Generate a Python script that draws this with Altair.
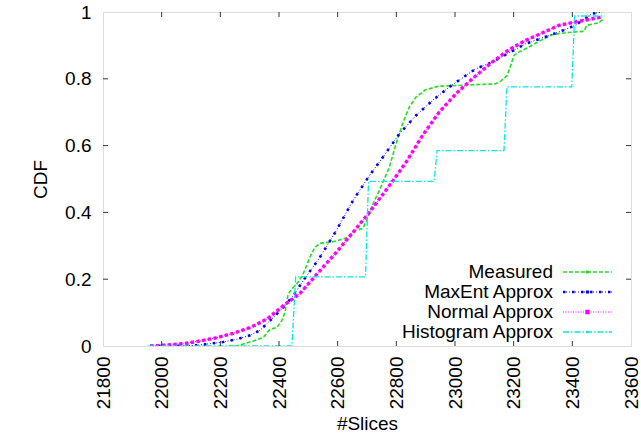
import altair as alt
import pandas as pd

FONT = "Liberation Sans"

# ---- data ----
measured_x = [22230, 22256, 22312, 22346, 22369, 22392, 22409, 22420, 22431, 22443, 22460, 22482,
              22505, 22522, 22539, 22584, 22629, 22657, 22686, 22703, 22720, 22742, 22776,
              22799, 22821, 22844, 22867, 22899, 22946, 23014, 23082, 23139, 23156, 23178,
              23190, 23201, 23218, 23241, 23286, 23331, 23376, 23439, 23450, 23490, 23507]
measured_y = [0.0, 0.0, 0.015, 0.025, 0.05, 0.055, 0.075, 0.10, 0.155, 0.17, 0.185, 0.215,
              0.265, 0.295, 0.307, 0.312, 0.323, 0.345, 0.352, 0.385, 0.425, 0.465, 0.535,
              0.605, 0.665, 0.715, 0.745, 0.767, 0.778, 0.78, 0.783, 0.785, 0.793, 0.81,
              0.84, 0.87, 0.88, 0.89, 0.912, 0.932, 0.938, 0.942, 0.96, 0.968, 0.98]

maxent_x = [21960, 22050, 22120, 22165, 22210, 22256, 22301, 22335, 22380, 22414, 22448,
            22482, 22539, 22595, 22652, 22708, 22754, 22810, 22867, 22923, 22980, 23037,
            23071, 23127, 23241, 23354, 23410, 23467, 23501]
maxent_y = [0.0, 0.0, 0.002, 0.007, 0.012, 0.02, 0.032, 0.047, 0.085, 0.115, 0.15,
            0.195, 0.265, 0.345, 0.435, 0.51, 0.565, 0.635, 0.69, 0.735, 0.775, 0.81,
            0.83, 0.85, 0.905, 0.94, 0.96, 0.995, 1.0]

normal_x = [21961, 22018, 22074, 22131, 22188, 22244, 22301, 22358, 22414, 22471, 22539,
            22595, 22652, 22708, 22776, 22833, 22889, 22946, 23003, 23059, 23127, 23184,
            23241, 23297, 23354, 23410, 23490, 23501]
normal_y = [0.0, 0.003, 0.007, 0.015, 0.025, 0.038, 0.055, 0.08, 0.12, 0.157, 0.225,
            0.28, 0.34, 0.40, 0.48, 0.55, 0.63, 0.70, 0.755, 0.80, 0.85, 0.887,
            0.915, 0.937, 0.96, 0.97, 0.983, 0.985]

hist_x = [21955, 22444, 22457, 22695, 22705, 22929, 22939, 23167, 23177, 23398, 23408, 23510]
hist_y = [0.0, 0.0, 0.207, 0.207, 0.493, 0.493, 0.585, 0.585, 0.776, 0.776, 0.988, 0.988]

series_names = ["Measured", "MaxEnt Approx", "Normal Approx", "Histogram Approx"]
x_ticks = [21800, 22000, 22200, 22400, 22600, 22800, 23000, 23200, 23400, 23600]
y_ticks = [0, 0.2, 0.4, 0.6, 0.8, 1.0]

W, H = 528, 334

xscale = alt.Scale(domain=[21800, 23600], nice=False, zero=False)
yscale = alt.Scale(domain=[0, 1], nice=False)

XAXIS = alt.Axis(values=x_ticks, title="#Slices", labelAngle=270, format="d",
                 labelFontSize=19, titleFontSize=19, labelFont=FONT,
                 titleFont=FONT, ticks=False, domain=False, grid=False,
                 labelPadding=10, titlePadding=6, labelColor="black",
                 titleColor="black", labelAlign="right", labelBaseline="middle",
                 titleFontWeight="normal")
YAXIS = alt.Axis(values=y_ticks, title="CDF", format=".1~f",
                 labelFontSize=19, titleFontSize=19, labelFont=FONT,
                 titleFont=FONT, ticks=False, domain=False, grid=False,
                 labelPadding=12, titlePadding=14, labelColor="black",
                 titleColor="black", titleFontWeight="normal")

def X():
    return alt.X("x:Q", scale=xscale, axis=XAXIS)

def Y():
    return alt.Y("y:Q", scale=yscale, axis=YAXIS)

def df(xs, ys):
    return pd.DataFrame({"x": xs, "y": ys, "i": list(range(len(xs)))})

def line(data, color, width, dash):
    return alt.Chart(data).mark_line(color=color, strokeWidth=width, strokeDash=dash,
                                     strokeCap="butt", clip=True).encode(
        x=X(), y=Y(), order="i:Q")

GREEN, BLUE, MAG, CYAN = "#1ee01e", "#0000ff", "#ff00ff", "#00e8e8"

d_meas = df(measured_x, measured_y)
d_max = df(maxent_x, maxent_y)
d_norm = df(normal_x, normal_y)
d_hist = df(hist_x, hist_y)

layers = [
    line(d_meas, GREEN, 1.6, [4, 2]),
    line(d_max, BLUE, 1.0, [1, 2]),
    line(d_max, BLUE, 2.6, [2.5, 6.5]),
    line(d_norm, MAG, 1.0, [1, 1.5]),
    line(d_norm, MAG, 3.4, [3.4, 2.4]),
    line(d_hist, CYAN, 1.3, [6, 2, 1.5, 2]),
]

# inward ticks (gnuplot style, mirrored)
xt = pd.DataFrame({"x": x_ticks[1:-1]})
yt = pd.DataFrame({"y": y_ticks[1:-1]})
tick_style = dict(color="#333333", strokeWidth=1)
layers += [
    alt.Chart(xt).mark_rule(**tick_style).encode(x=X(), y=alt.value(H), y2=alt.value(H - 5)),
    alt.Chart(xt).mark_rule(**tick_style).encode(x=X(), y=alt.value(0), y2=alt.value(5)),
    alt.Chart(yt).mark_rule(**tick_style).encode(y=Y(), x=alt.value(0), x2=alt.value(5)),
    alt.Chart(yt).mark_rule(**tick_style).encode(y=Y(), x=alt.value(W), x2=alt.value(W - 5)),
]

# legend (text left, sample right, as gnuplot draws it)
one = pd.DataFrame({"k": [0]})
leg_styles = [
    [(GREEN, 1.6, [4, 2])],
    [(BLUE, 1.0, [1, 2]), (BLUE, 2.6, [2.5, 6.5])],
    [(MAG, 1.0, [1, 1.5])],
    [(CYAN, 1.3, [6, 2, 1.5, 2])],
]
leg_pt = [(GREEN, 9), (BLUE, 9), (MAG, 20), (CYAN, 6)]
for i, name in enumerate(series_names):
    yy = 260 + 20 * i
    layers.append(alt.Chart(one).mark_text(text=name, align="right", baseline="middle",
                                           font=FONT, fontSize=19, color="black").encode(
        x=alt.value(450), y=alt.value(yy)))
    for c, w, d in leg_styles[i]:
        layers.append(alt.Chart(one).mark_rule(color=c, strokeWidth=w, strokeDash=d).encode(
            x=alt.value(460), x2=alt.value(509), y=alt.value(yy), y2=alt.value(yy)))
    pc, ps = leg_pt[i]
    layers.append(alt.Chart(one).mark_point(shape="square", filled=True, color=pc, size=ps,
                                            opacity=1).encode(x=alt.value(484.5), y=alt.value(yy)))

chart = alt.layer(*layers).properties(
    width=W, height=H,
    autosize=alt.AutoSizeParams(type="none"),
    padding={"left": 103, "top": 12, "right": 10, "bottom": 94},
).configure_view(stroke="black", strokeWidth=1.2).configure(background="white")

chart.save("out.html", embed_options={"renderer": "svg", "actions": False})
